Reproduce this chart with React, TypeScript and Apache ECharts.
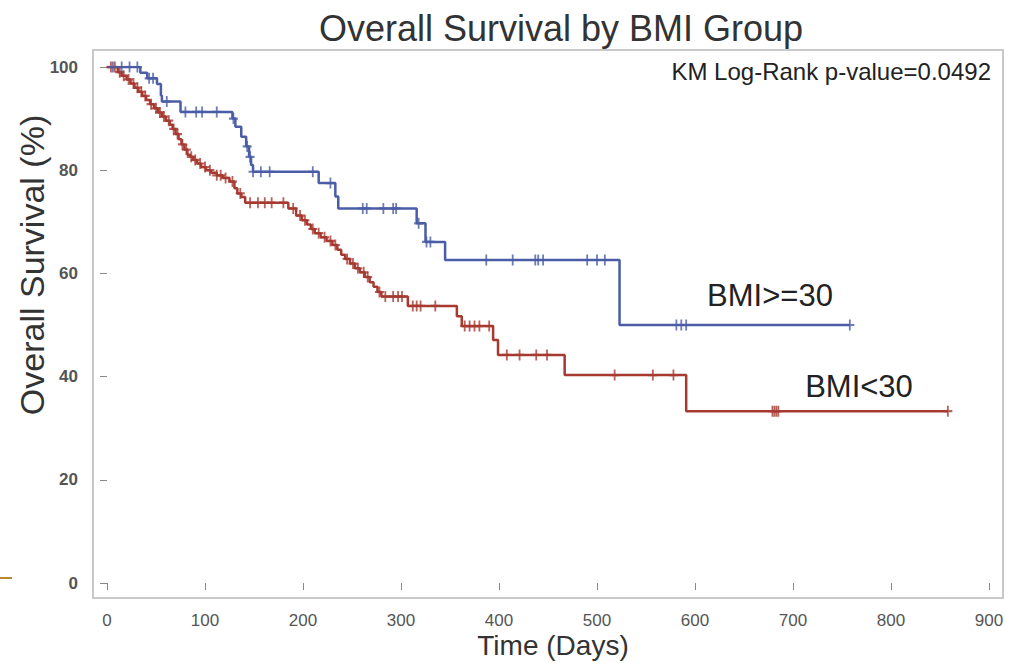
import React, { useEffect, useRef } from "react";
import * as echarts from "echarts";

// ---- Data ----
const xTicks = [0, 100, 200, 300, 400, 500, 600, 700, 800, 900];
const yTicks = [0, 20, 40, 60, 80, 100];

// BMI>=30 (blue) Kaplan-Meier steps
const blueTimes = [0, 34, 41, 51, 55, 56, 75, 128, 131, 137, 142, 145, 147, 149, 216, 233, 236, 316, 325, 345, 523, 758];
const blueSurv = [100, 98.9, 97.8, 96.7, 94.5, 93.3, 91.3, 90, 88.4, 86.5, 84.6, 82.6, 81, 79.7, 77.5, 74.9, 72.6, 69.7, 66.1, 62.6, 50, 50];
const blueCensor = [6, 15, 23, 31, 43, 47, 61, 80, 91, 97, 112, 129, 143, 146, 149, 157, 166, 210, 228, 261, 265, 282, 292, 295, 318, 326, 330, 387, 414, 437, 440, 445, 490, 500, 508, 581, 586, 591, 758];

// BMI<30 (red) Kaplan-Meier steps
const redTimes = [0, 11, 15, 20, 24, 28, 32, 36, 40, 44, 48, 52, 56, 60, 64, 67, 70, 73, 76, 79, 82, 85, 88, 92, 96, 101, 106, 112, 118, 125, 130, 133, 137, 141, 185, 193, 199, 204, 208, 212, 218, 224, 230, 235, 239, 243, 248, 253, 258, 263, 268, 272, 276, 280, 307, 357, 362, 394, 399, 467, 591, 858];
const redSurv = [100, 99, 98.3, 97.6, 96.8, 96, 95.2, 94.4, 93.6, 92.8, 92, 91.2, 90.4, 89.6, 88.8, 88, 87, 86, 85, 84, 83, 82.6, 82, 81.3, 80.6, 80, 79.5, 79, 78.5, 77.8, 76.5, 75.5, 74.8, 73.7, 72.6, 71.2, 70.3, 69.5, 68.6, 67.8, 67, 66.3, 65.5, 64.6, 63.6, 62.8, 61.9, 61, 60.2, 59.3, 58.3, 57.4, 56.4, 55.5, 53.7, 51.7, 49.8, 47.1, 44.2, 40.3, 33.3, 33.3];
const redCensor = [4, 8, 13, 17, 22, 27, 31, 35, 39, 45, 50, 54, 58, 63, 68, 72, 77, 81, 86, 90, 95, 100, 105, 112, 116, 121, 128, 136, 146, 154, 161, 168, 180, 190, 197, 202, 210, 216, 222, 228, 233, 245, 251, 256, 262, 266, 278, 284, 292, 297, 301, 312, 316, 320, 335, 365, 370, 375, 380, 390, 408, 421, 438, 449, 518, 557, 578, 679, 681, 683, 685, 858];

const BLUE = "#4a5da6";
const RED = "#a63a31";
const FONT = "'Liberation Sans', Arial, sans-serif";

function survAt(times: number[], surv: number[], t: number): number {
  let v = surv[0];
  for (let i = 0; i < times.length; i++) {
    if (times[i] <= t) v = surv[i];
  }
  return v;
}

const PLUS = "path://M4,0H6V4H10V6H6V10H4V6H0V4H4Z";

export default function App() {
  const ref = useRef<HTMLDivElement>(null);
  useEffect(() => {
    if (!ref.current) return;
    const chart = echarts.init(ref.current, null, { renderer: "svg" });
    const blueLine = blueTimes.map((t, i) => [t, blueSurv[i]]);
    const redLine = redTimes.map((t, i) => [t, redSurv[i]]);
    const blueMarks = blueCensor.map((t) => [t, survAt(blueTimes, blueSurv, t)]);
    const redMarks = redCensor.map((t) => [t, survAt(redTimes, redSurv, t)]);

    chart.setOption({
      animation: false,
      backgroundColor: "#ffffff",
      grid: { left: 107, right: 21, top: 67, bottom: 80, containLabel: false },
      xAxis: {
        type: "value",
        min: xTicks[0],
        max: xTicks[xTicks.length - 1],
        interval: 100,
        offset: 15,
        axisLine: { show: false },
        axisTick: { show: true, length: 7, lineStyle: { color: "#888", width: 1 } },
        axisLabel: { margin: 14, fontSize: 17, color: "#555", fontFamily: FONT },
        splitLine: { show: false },
      },
      yAxis: {
        type: "value",
        min: yTicks[0],
        max: yTicks[yTicks.length - 1],
        interval: 20,
        offset: 14,
        axisLine: { show: false },
        axisTick: { show: true, length: 7, lineStyle: { color: "#888", width: 1 } },
        axisLabel: { margin: 15, fontSize: 17, fontWeight: "bold", color: "#555", fontFamily: FONT },
        splitLine: { show: false },
      },
      graphic: [
        {
          type: "rect",
          z: -1,
          shape: { x: 93, y: 50, width: 910, height: 548 },
          style: { fill: "none", stroke: "#c9c9c9", lineWidth: 2 },
        },
        {
          type: "line",
          shape: { x1: 0, y1: 578, x2: 12, y2: 578 },
          style: { stroke: "#b8872e", lineWidth: 2 },
        },
        {
          type: "text",
          x: 561,
          y: 28,
          style: { text: "Overall Survival by BMI Group", fontSize: 36, fontFamily: FONT, fill: "#333", align: "center", verticalAlign: "middle" },
        },
        {
          type: "text",
          x: 991,
          y: 71,
          style: { text: "KM Log-Rank p-value=0.0492", fontSize: 24, fontFamily: FONT, fill: "#222", align: "right", verticalAlign: "middle" },
        },
        {
          type: "text",
          x: 553,
          y: 645,
          style: { text: "Time (Days)", fontSize: 28, fontFamily: FONT, fill: "#333", align: "center", verticalAlign: "middle" },
        },
        {
          type: "text",
          x: 32,
          y: 265,
          rotation: Math.PI / 2,
          style: { text: "Overall Survival (%)", fontSize: 34, fontFamily: FONT, fill: "#333", align: "center", verticalAlign: "middle" },
        },
        {
          type: "text",
          x: 770,
          y: 295,
          style: { text: "BMI>=30", fontSize: 31, fontFamily: FONT, fill: "#222", align: "center", verticalAlign: "middle" },
        },
        {
          type: "text",
          x: 859,
          y: 386,
          style: { text: "BMI<30", fontSize: 31, fontFamily: FONT, fill: "#222", align: "center", verticalAlign: "middle" },
        },
      ],
      series: [
        {
          name: "BMI<30",
          type: "line",
          step: "end",
          data: redLine,
          showSymbol: false,
          lineStyle: { color: RED, width: 2.5 },
          z: 2,
        },
        {
          name: "BMI>=30",
          type: "line",
          step: "end",
          data: blueLine,
          showSymbol: false,
          lineStyle: { color: BLUE, width: 2.5 },
          z: 3,
        },
        {
          name: "BMI<30 censored",
          type: "scatter",
          data: redMarks,
          symbol: PLUS,
          symbolSize: [9, 11],
          itemStyle: { color: RED },
          z: 4,
        },
        {
          name: "BMI>=30 censored",
          type: "scatter",
          data: blueMarks,
          symbol: PLUS,
          symbolSize: [9, 11],
          itemStyle: { color: BLUE },
          z: 5,
        },
      ],
    });
    return () => chart.dispose();
  }, []);
  return <div ref={ref} style={{ position: "absolute", left: 0, top: 0, width: 1010, height: 663 }} />;
}
